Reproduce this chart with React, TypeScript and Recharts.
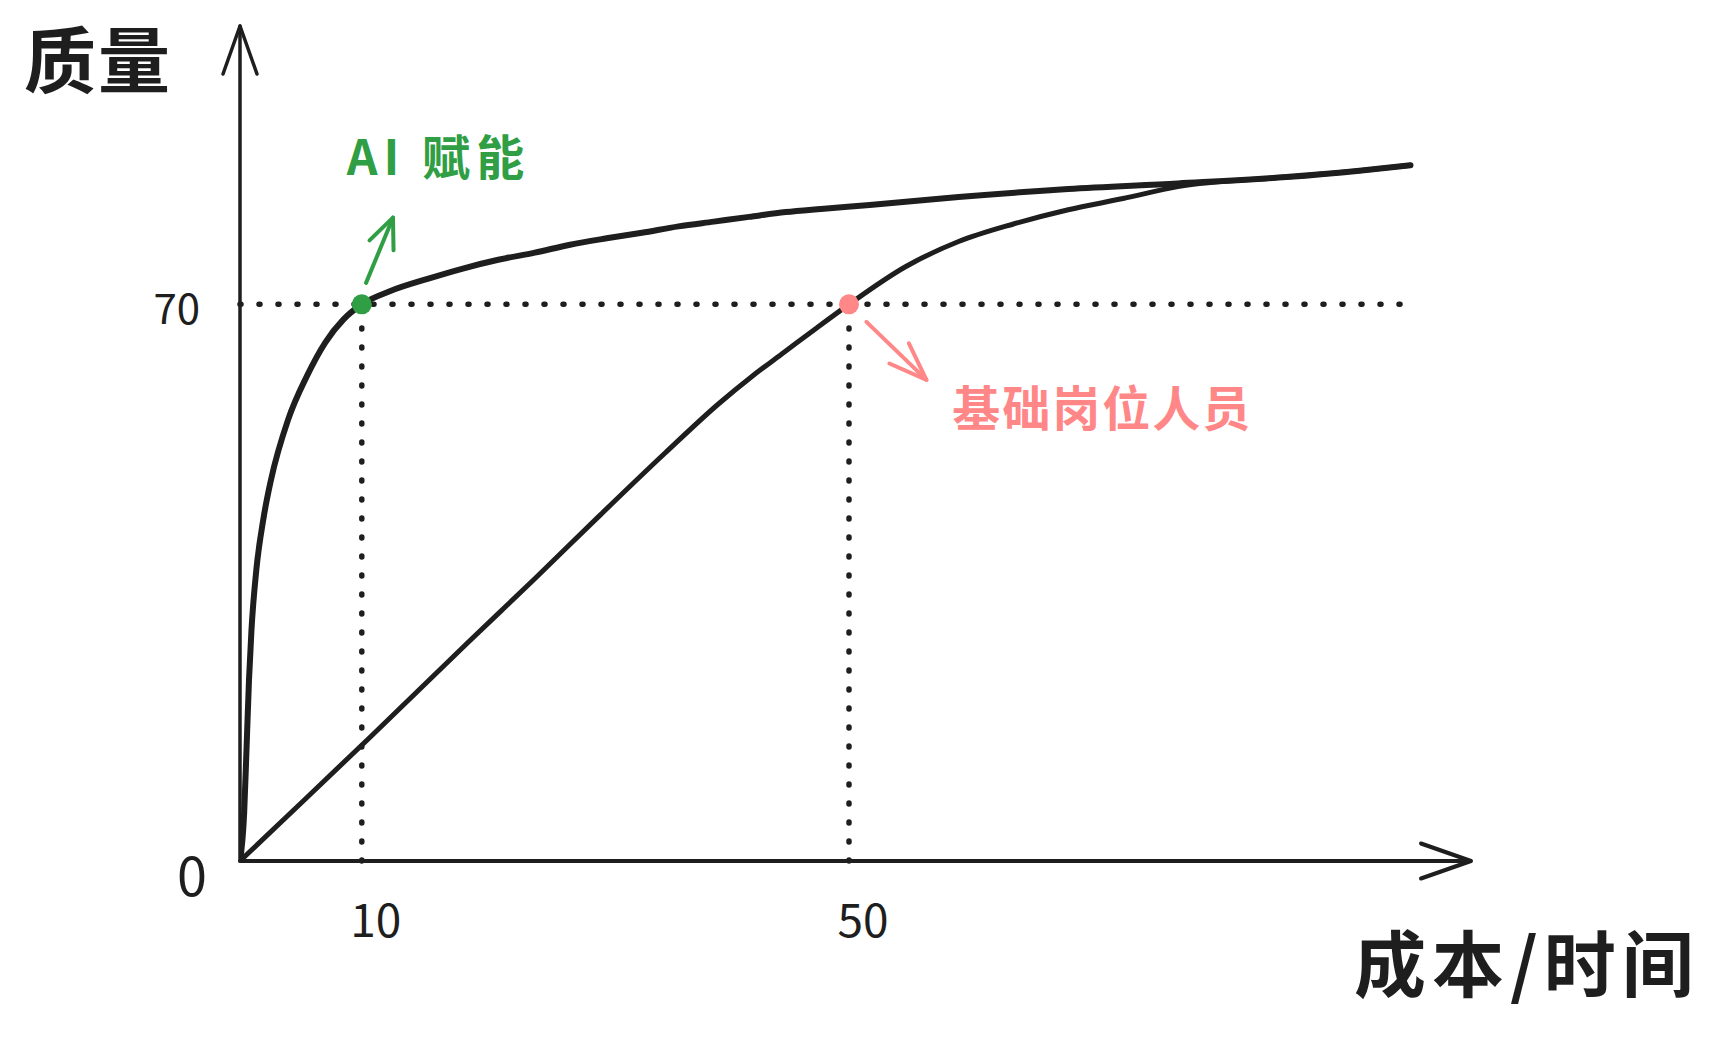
import React from 'react';
import { LineChart, Line, XAxis, YAxis, ReferenceLine, ReferenceDot } from 'recharts';

// ---- data ----
const aiCost = [0, 0.34, 0.54, 0.74, 0.94, 1.34, 1.94, 2.54, 3.95, 5.5, 7, 8.5, 10, 12.4, 15.4, 18.3, 21.2, 24.2, 27.1, 30.1, 33, 36, 38.9, 41.8, 44.8, 47.7, 51.7, 59, 68, 77, 85.9, 91.9, 96.1];
const aiQuality = [0, 6, 14.3, 22.8, 29, 36.6, 43.2, 47.9, 55.5, 61, 65.2, 68.1, 70, 71.7, 73.2, 74.5, 75.6, 76.5, 77.5, 78.3, 79, 79.8, 80.4, 81, 81.6, 82, 82.5, 83.5, 84.5, 85.2, 86, 86.8, 87.5];
const baseCost = [0, 5.3, 10.7, 18.8, 24.2, 29.5, 34.9, 39.3, 42, 44.7, 47.4, 50, 54.6, 59, 63.5, 68, 72.5, 77, 85.9, 91.9, 96.1];
const baseQuality = [0, 7.7, 15.6, 27.6, 35.5, 43.4, 51.3, 57.5, 60.9, 64, 67.1, 70, 74.7, 77.9, 80.1, 81.9, 83.3, 84.8, 86, 86.8, 87.5];

const xTicks = [10, 50];
const yTicks = [0, 70];
const xDomain = [0, 100];
const yDomain = [0, 105];

const targetQuality = 70;
const aiCostAtTarget = 10;
const baseCostAtTarget = 50;
const guideEnd = 96;

const aiLabel = 'AI 赋能';
const baseLabel = '基础岗位人员';
const yTitle = '质量';
const xTitle = '成本/时间';

// annotation anchors (data units)
const aiArrow = [{ x: 10.35, y: 72.7 }, { x: 12.56, y: 80.9 }];
const baseArrow = [{ x: 51.43, y: 67.8 }, { x: 56.36, y: 60.5 }];
const aiLabelPos = { x: 16.3, y: 88.9 };
const baseLabelPos = { x: 70.8, y: 57.3 };

const aiData = aiCost.map((c, i) => ({ c, q: aiQuality[i] }));
const baseData = baseCost.map((c, i) => ({ c, q: baseQuality[i] }));

const INK = '#1e1e1e';
const GREEN = '#2f9e44';
const PINK = '#ff8787';
const FONT = "'Noto Sans CJK SC', 'Noto Sans', sans-serif";

const XTick = (props: any) => {
  const { x, y, payload } = props;
  return (
    <text x={x + 14} y={y + 56} textAnchor="middle" dominantBaseline="central" fontSize={46} fontFamily={FONT} fill={INK}>
      {String(payload.value)}
    </text>
  );
};

const YTick = (props: any) => {
  const { x, y, payload } = props;
  if (payload.value === 0) {
    return (
      <text x={x - 48} y={y + 11} textAnchor="middle" dominantBaseline="central" fontSize={54} fontFamily={FONT} fill={INK}>
        0
      </text>
    );
  }
  return (
    <text x={x - 40} y={y + 1} textAnchor="end" dominantBaseline="central" fontSize={42} fontFamily={FONT} fill={INK}>
      {String(payload.value)}
    </text>
  );
};

const makeLabel = (text: string, color: string, size: number, spacing: number) => (props: any) => {
  const vb = props.viewBox || {};
  const cx = (vb.x ?? 0) + (vb.width ?? 0) / 2;
  const cy = (vb.y ?? 0) + (vb.height ?? 0) / 2;
  return (
    <text x={cx} y={cy} textAnchor="middle" dominantBaseline="central" fontSize={size} fontWeight={700} letterSpacing={spacing} fontFamily={FONT} fill={color}>
      {text}
    </text>
  );
};

export default function App() {
  return (
    <div style={{ position: 'absolute', left: 0, top: 0, width: 1716, height: 1038, background: '#ffffff' }}>
      <LineChart width={1716} height={1038} margin={{ top: 26, right: 258, bottom: 117, left: 180 }}>
        <defs>
          <marker id="arrowY" markerUnits="userSpaceOnUse" markerWidth={10} markerHeight={10} refX={0} refY={0} orient="auto-start-reverse" overflow="visible">
            <path d="M-48 -17 L0 0 L-48 17" fill="none" stroke={INK} strokeWidth={3.5} strokeLinecap="round" strokeLinejoin="round" />
          </marker>
          <marker id="arrowX" markerUnits="userSpaceOnUse" markerWidth={10} markerHeight={10} refX={0} refY={0} orient="auto" overflow="visible">
            <path d="M0 0 L13 0 M-37 -17.5 L13 0 L-37 17.5" fill="none" stroke={INK} strokeWidth={4} strokeLinecap="round" strokeLinejoin="round" />
          </marker>
          <marker id="arrowGreen" markerUnits="userSpaceOnUse" markerWidth={10} markerHeight={10} refX={0} refY={0} orient="auto" overflow="visible">
            <path d="M-30 -13 L0 0 L-30 13" fill="none" stroke={GREEN} strokeWidth={4} strokeLinecap="round" strokeLinejoin="round" />
          </marker>
          <marker id="arrowPink" markerUnits="userSpaceOnUse" markerWidth={10} markerHeight={10} refX={0} refY={0} orient="auto" overflow="visible">
            <path d="M-38 -14 L0 0 L-38 14" fill="none" stroke={PINK} strokeWidth={4} strokeLinecap="round" strokeLinejoin="round" />
          </marker>
        </defs>

        <XAxis
          type="number"
          dataKey="c"
          domain={xDomain}
          ticks={xTicks}
          interval={0}
          height={60}
          tickSize={0}
          tickMargin={0}
          tickLine={false}
          tick={<XTick />}
          axisLine={{ stroke: INK, strokeWidth: 4, strokeLinecap: 'round', markerEnd: 'url(#arrowX)' }}
          allowDataOverflow
        />
        <YAxis
          type="number"
          domain={yDomain}
          ticks={yTicks}
          interval={0}
          width={60}
          tickSize={0}
          tickMargin={0}
          tickLine={false}
          tick={<YTick />}
          axisLine={{ stroke: INK, strokeWidth: 3.5, strokeLinecap: 'round', markerStart: 'url(#arrowY)' }}
          allowDataOverflow
        />

        <ReferenceLine segment={[{ x: 0, y: targetQuality }, { x: guideEnd, y: targetQuality }]} stroke={INK} strokeWidth={5.5} strokeDasharray="1 18" strokeLinecap="round" />
        <ReferenceLine segment={[{ x: aiCostAtTarget, y: 0 }, { x: aiCostAtTarget, y: targetQuality }]} stroke={INK} strokeWidth={5.5} strokeDasharray="1 18" strokeLinecap="round" />
        <ReferenceLine segment={[{ x: baseCostAtTarget, y: 0 }, { x: baseCostAtTarget, y: targetQuality }]} stroke={INK} strokeWidth={5.5} strokeDasharray="1 18" strokeLinecap="round" />

        <Line data={baseData} dataKey="q" type="monotone" stroke={INK} strokeWidth={5} dot={false} activeDot={false} isAnimationActive={false} strokeLinecap="round" />
        <Line data={aiData} dataKey="q" type="monotone" stroke={INK} strokeWidth={6} dot={false} activeDot={false} isAnimationActive={false} strokeLinecap="round" />

        <ReferenceLine segment={aiArrow} stroke={GREEN} strokeWidth={4} strokeLinecap="round" markerEnd="url(#arrowGreen)" />
        <ReferenceLine segment={baseArrow} stroke={PINK} strokeWidth={4} strokeLinecap="round" markerEnd="url(#arrowPink)" />

        <ReferenceDot x={aiCostAtTarget} y={targetQuality} r={10} fill={GREEN} stroke="none" />
        <ReferenceDot x={baseCostAtTarget} y={targetQuality} r={10} fill={PINK} stroke="none" />

        <ReferenceDot x={aiLabelPos.x} y={aiLabelPos.y} r={0} fill="none" stroke="none" label={makeLabel(aiLabel, GREEN, 48, 6)} />
        <ReferenceDot x={baseLabelPos.x} y={baseLabelPos.y} r={0} fill="none" stroke="none" label={makeLabel(baseLabel, PINK, 48, 2)} />

        <text x={24} y={87} fontSize={72} fontWeight={700} letterSpacing={2} fontFamily={FONT} fill={INK}>
          {yTitle}
        </text>
        <text x={1354} y={991} fontSize={72} fontWeight={700} letterSpacing={6} fontFamily={FONT} fill={INK}>
          {xTitle}
        </text>
      </LineChart>
    </div>
  );
}
